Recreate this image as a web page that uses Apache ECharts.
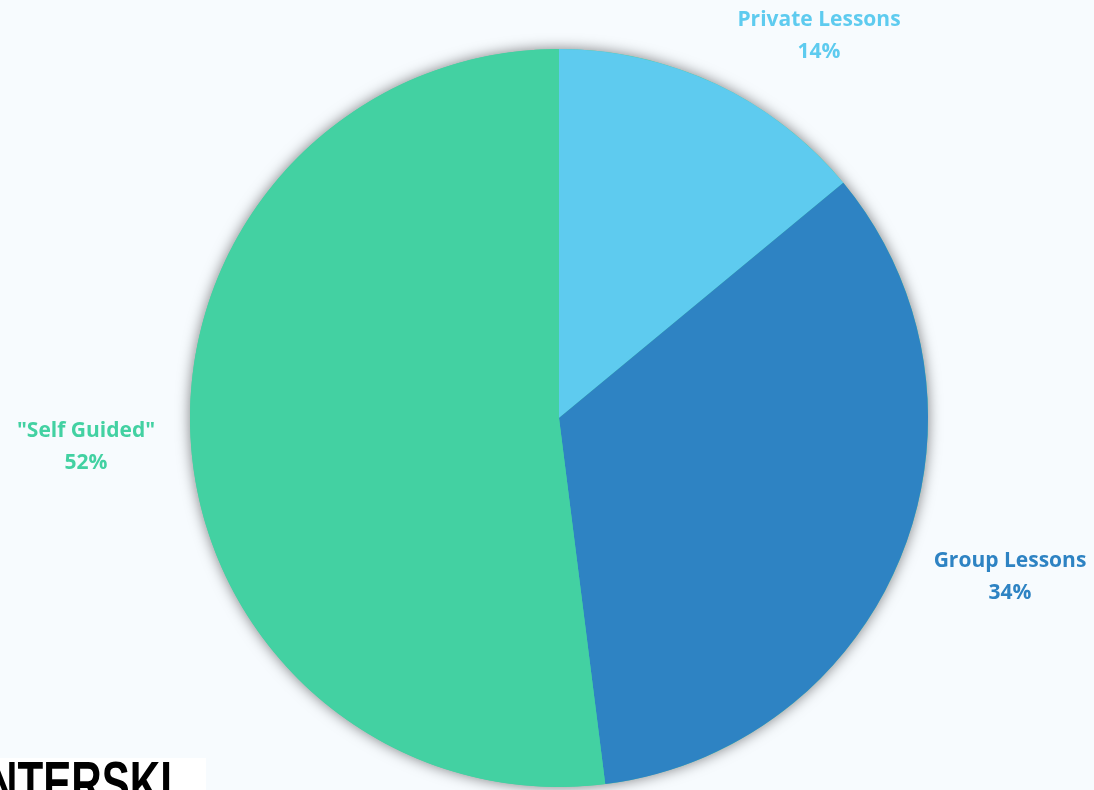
<!DOCTYPE html>
<html>
<head>
<meta charset="utf-8">
<script src="https://cdn.jsdelivr.net/npm/echarts@6/dist/echarts.min.js"></script>
<style>
  html, body { margin: 0; padding: 0; background: #f7fbfe; }
  #chart { width: 1094px; height: 790px; }
</style>
</head>
<body>
<div id="chart"></div>
<script>
// ---- data ----
const categories = ['Private Lessons', 'Group Lessons', '"Self Guided"'];
const shares = [14, 34, 52];
const sliceColors = ['#5ecbef', '#2e83c3', '#43d1a2'];

// ---- layout (styling only) ----
const pieCenter = [559, 418];
const pieRadius = 369;
const labelAnchors = [[819, 36], [1010, 577], [86, 447]];

const chart = echarts.init(document.getElementById('chart'), null, { renderer: 'canvas' });

const seriesData = categories.map((name, i) => ({
  name: name,
  value: shares[i],
  itemStyle: { color: sliceColors[i] },
  label: { color: sliceColors[i] }
}));

chart.setOption({
  backgroundColor: '#f7fbfe',
  animation: false,
  series: [
    {
      // shadow disc behind the pie
      type: 'pie',
      silent: true,
      center: pieCenter,
      radius: pieRadius,
      z: 1,
      label: { show: false },
      labelLine: { show: false },
      data: [{ value: 1, itemStyle: { color: '#43d1a2', shadowBlur: 14, shadowColor: 'rgba(0,0,0,0.5)' } }]
    },
    {
      type: 'pie',
      center: pieCenter,
      radius: pieRadius,
      startAngle: 90,
      clockwise: true,
      z: 2,
      itemStyle: { borderWidth: 0 },
      label: {
        show: true,
        position: 'outside',
        overflow: 'none',
        edgeDistance: 0,
        formatter: (p) => p.name + '\n' + Math.round(p.percent) + '%',
        fontFamily: 'Open Sans',
        fontWeight: 'bold',
        fontSize: 21,
        lineHeight: 32,
        align: 'center'
      },
      labelLine: { show: false },
      labelLayout: (params) => {
        const a = labelAnchors[params.dataIndex];
        return { x: a[0], y: a[1], align: 'center', verticalAlign: 'middle' };
      },
      data: seriesData
    }
  ],
  graphic: [
    {
      type: 'rect',
      left: 0,
      top: 758,
      shape: { width: 206, height: 40 },
      style: { fill: '#ffffff' },
      z: 10
    },
    {
      type: 'text',
      z: 11,
      x: 172,
      y: 756,
      scaleX: 0.68,
      style: {
        text: 'WINTERSKI',
        x: 0,
        y: 0,
        align: 'right',
        verticalAlign: 'top',
        fontFamily: 'Liberation Sans',
        fontWeight: 'bold',
        fontSize: 62,
        fill: '#000000'
      }
    }
  ]
});
</script>
</body>
</html>
